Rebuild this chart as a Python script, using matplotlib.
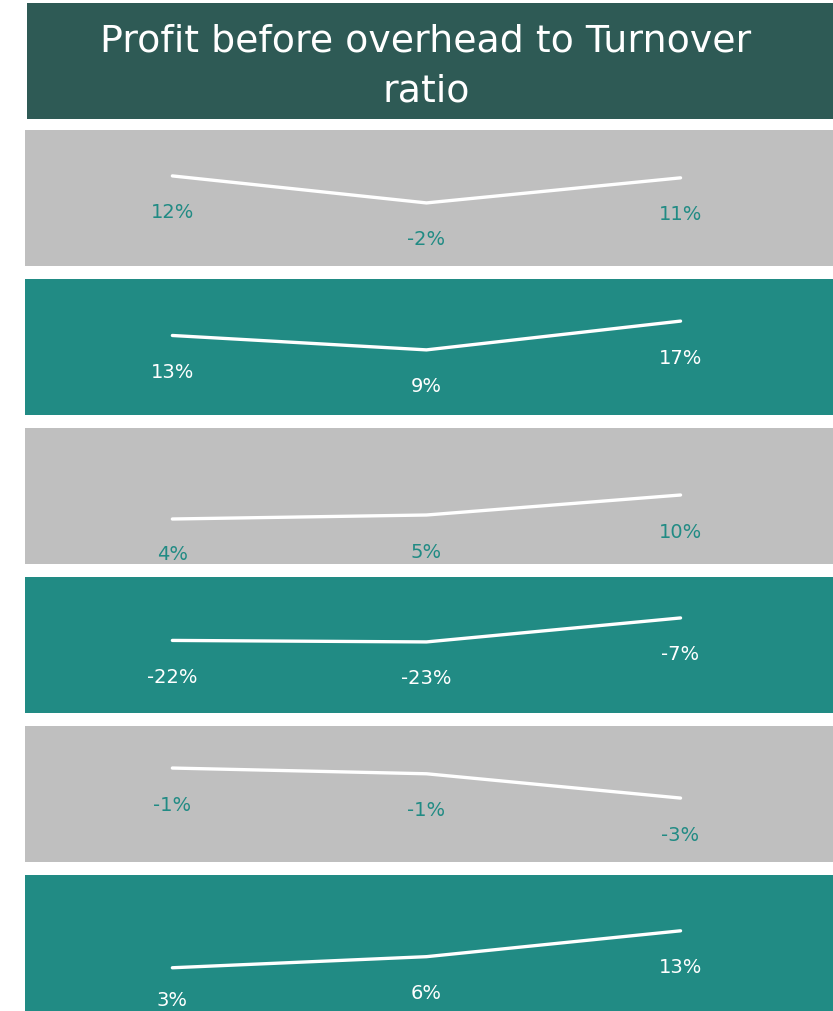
import matplotlib
matplotlib.use("Agg")
import matplotlib.pyplot as plt
from matplotlib.transforms import blended_transform_factory

# data
title_lines = ["Profit before overhead to Turnover", "ratio"]
series = [
    [12, -2, 11],
    [13, 9, 17],
    [4, 5, 10],
    [-22, -23, -7],
    [-0.6, -1.0, -2.7],
    [3, 6, 13],
]
# per panel y range (each sparkline scales on its own)
ylims = [(-34.7, 35.8), (-9.1, 28.7), (-7.25, 26.75),
         (-70.4, 20.3), (-7.17, 2.34), (-8.7, 28.1)]

GREY = "#bfbfbf"
TEAL = "#218b84"
DARK = "#2e5a55"

plt.rcParams["font.family"] = ["DejaVu Sans"]

W, H = 833, 1011
fig = plt.figure(figsize=(W / 100, H / 100), dpi=100)


def px_axes(x0, y0, x1, y1):
    return fig.add_axes([x0 / W, 1 - y1 / H, (x1 - x0) / W, (y1 - y0) / H])


def clean(ax):
    ax.set_xticks([])
    ax.set_yticks([])
    for s in ax.spines.values():
        s.set_visible(False)


# title box
tax = px_axes(27, 3, 833, 119)
tax.set_facecolor(DARK)
clean(tax)
th = 116.0
for k, line in enumerate(title_lines):
    base = 48.7 + 50 * k  # baseline, px from top of box
    tax.text(0.495, 1 - base / th, line, ha="center", va="baseline",
             color="white", fontsize=27.3, transform=tax.transAxes)

PH = 136.0
tops = [130, 279, 428, 577, 726, 875]
for i, vals in enumerate(series):
    top = tops[i]
    ax = px_axes(25, top, 833, top + PH)
    bg = GREY if i % 2 == 0 else TEAL
    lab = TEAL if i % 2 == 0 else "white"
    ax.set_facecolor(bg)
    xs = list(range(len(vals)))
    ax.plot(xs, vals, color="white", lw=2.4, solid_capstyle="round")
    ax.set_xlim(-0.58, len(vals) - 1 + 0.6)
    lo, hi = ylims[i]
    ax.set_ylim(lo, hi)
    tr = blended_transform_factory(ax.transData, ax.transAxes)
    for x, v in zip(xs, vals):
        yf = (v - lo) / (hi - lo) - 42.5 / PH
        yf = max(yf, 4.5 / PH)  # keep label inside the panel
        ax.text(x, yf, "%.0f%%" % v, transform=tr, ha="center",
                va="baseline", color=lab, fontsize=14)
    clean(ax)

fig.savefig("out.png", dpi=100, facecolor="white")
